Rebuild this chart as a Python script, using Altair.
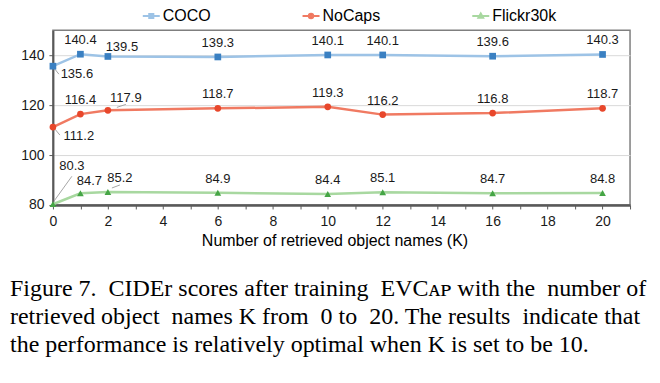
import altair as alt
import pandas as pd

# ---------------- data ----------------
K_VALUES = [0, 1, 2, 6, 10, 12, 16, 20]
SERIES = ["COCO", "NoCaps", "Flickr30k"]
COCO = [135.6, 140.4, 139.5, 139.3, 140.1, 140.1, 139.6, 140.3]
NOCAPS = [111.2, 116.4, 117.9, 118.7, 119.3, 116.2, 116.8, 118.7]
FLICKR = [80.3, 84.7, 85.2, 84.9, 84.4, 85.1, 84.7, 84.8]
X_TICKS = list(range(0, 22))
Y_TICKS = [80, 100, 120, 140]
X_TITLE = "Number of retrieved object names (K)"
CAPTION = [
    "Figure 7. CIDEr scores after training EVC\u1d00\u1d18 with the number of",
    "retrieved object names K from 0 to 20.  The results indicate that",
    "the performance is relatively optimal when K is set to be 10.",
]

# ---------------- styles ----------------
LINE_COLORS = ["#9DC3E6", "#F07A62", "#A8D8A0"]
MARKER_COLORS = ["#3A80C2", "#E8472B", "#45A545"]
MARKER_SHAPES = ["square", "circle", "triangle-up"]
LEGEND_PATHS = [
    "M-1,0H1M-0.24,-0.24H0.24V0.24H-0.24Z",
    "M-1,0H1M0.26,0A0.26,0.26,0,1,1,-0.26,0A0.26,0.26,0,1,1,0.26,0Z",
    "M-1,0H1M0,-0.3L0.28,0.2L-0.28,0.2Z",
]
FONT = "Liberation Sans"
# extra (non-breaking) spaces spread over the gaps of each caption line, to justify it
CAPTION_EXTRA_SPACES = [3, 4, 0]
# label offsets in pixels (dx, dy) for labels that are moved from the default spot
DEFAULT_OFFSET = (0, -14)
LABEL_OFFSETS = {
    ("COCO", 0): (24, 8),
    ("COCO", 2): (14, -9),
    ("NoCaps", 0): (26, 9),
    ("NoCaps", 2): (18, -12),
    ("Flickr30k", 0): (19, -38),
    ("Flickr30k", 1): (9, -12),
    ("Flickr30k", 2): (12, -14),
}
# leader lines: (x offset, y offset, x2 offset, y2 offset) in pixels
LEADERS = {
    ("COCO", 0): (2, 3, 6, 8),
    ("NoCaps", 0): (2, 2, 7, 8),
    ("NoCaps", 2): (9, -3, 18, -6),
    ("Flickr30k", 0): (1, -3, 19, -28),
    ("Flickr30k", 2): (4, -4, 12, -7),
}


def justify(line, extra):
    words = line.split()
    gaps = len(words) - 1
    if gaps <= 0 or extra <= 0:
        return line
    step = gaps / extra
    targets = {int(step * (j + 0.5)) for j in range(extra)}
    out = words[0]
    for i, w in enumerate(words[1:]):
        out += " " + ("\u00a0" if i in targets else "") + w
    return out


caption_text = [justify(l, e) for l, e in zip(CAPTION, CAPTION_EXTRA_SPACES)]

rows = []
for name, vals in zip(SERIES, [COCO, NOCAPS, FLICKR]):
    for k, v in zip(K_VALUES, vals):
        rows.append({"series": name, "K": k, "score": v, "key": f"{name}_{k}"})
df = pd.DataFrame(rows)

x_enc = alt.X(
    "K:Q",
    scale=alt.Scale(domain=[0, 21], nice=False, zero=False),
    axis=alt.Axis(
        values=X_TICKS,
        labelExpr="datum.value % 2 == 0 && datum.value <= 20 ? datum.label : ''",
        title=X_TITLE,
        grid=False,
        domainColor="#595959",
        domainWidth=2.5,
        tickColor="#595959",
        tickSize=4,
        tickWidth=1,
        labelFontSize=14,
        labelFont=FONT,
        labelColor="#1a1a1a",
        labelPadding=6,
        labelFlush=False,
        labelOverlap=False,
        titleFont=FONT,
        titleFontSize=16,
        titleFontWeight="normal",
        titleColor="#000000",
        titlePadding=4,
        titleX=282,
    ),
)
y_enc = alt.Y(
    "score:Q",
    scale=alt.Scale(domain=[80, 150], nice=False, zero=False),
    axis=alt.Axis(
        values=Y_TICKS,
        title=None,
        grid=True,
        gridColor="#D9D9D9",
        gridWidth=1,
        domainColor="#595959",
        domainWidth=2,
        tickColor="#595959",
        tickSize=4,
        labelFontSize=14,
        labelFont=FONT,
        labelColor="#1a1a1a",
        labelPadding=5,
    ),
)

base = alt.Chart(df)

lines = base.mark_line(strokeWidth=2.5).encode(
    x=x_enc,
    y=y_enc,
    stroke=alt.Stroke("series:N", scale=alt.Scale(domain=SERIES, range=LINE_COLORS), legend=None),
)

points = base.mark_point(filled=True, opacity=1, size=45).encode(
    x=x_enc,
    y=y_enc,
    fill=alt.Fill("series:N", scale=alt.Scale(domain=SERIES, range=MARKER_COLORS), legend=None),
    shape=alt.Shape("series:N", scale=alt.Scale(domain=SERIES, range=MARKER_SHAPES), legend=None),
)

layers = [lines]

# leader lines
for (s, k), (a, b, c, d) in LEADERS.items():
    layers.append(
        base.transform_filter(alt.datum.key == f"{s}_{k}")
        .mark_rule(color="#A6A6A6", strokeWidth=1, xOffset=a, yOffset=b, x2Offset=c, y2Offset=d)
        .encode(x=x_enc, y=y_enc, x2="K:Q", y2="score:Q")
    )

layers.append(points)

text_kw = dict(font=FONT, fontSize=13, color="#1a1a1a", baseline="middle", align="center")
special_keys = [f"{s}_{k}" for (s, k) in LABEL_OFFSETS]
layers.append(
    base.transform_filter(~alt.FieldOneOfPredicate(field="key", oneOf=special_keys))
    .mark_text(dx=DEFAULT_OFFSET[0], dy=DEFAULT_OFFSET[1], **text_kw)
    .encode(x=x_enc, y=y_enc, text=alt.Text("score:Q", format=".1f"))
)
for (s, k), (dx, dy) in LABEL_OFFSETS.items():
    layers.append(
        base.transform_filter(alt.datum.key == f"{s}_{k}")
        .mark_text(dx=dx, dy=dy, **text_kw)
        .encode(x=x_enc, y=y_enc, text=alt.Text("score:Q", format=".1f"))
    )

legend = alt.Legend(
    title=None,
    orient="none",
    legendX=89,
    legendY=-24,
    direction="horizontal",
    columnPadding=88,
    labelFont=FONT,
    labelFontSize=16,
    labelColor="#000000",
    labelOffset=2,
    symbolSize=289,
    symbolStrokeWidth=2,
    symbolOpacity=1,
    padding=0,
)
legend_layer = base.transform_filter("false").mark_point(filled=True, opacity=1).encode(
    x=x_enc,
    y=y_enc,
    fill=alt.Fill("series:N", scale=alt.Scale(domain=SERIES, range=MARKER_COLORS), legend=legend),
    stroke=alt.Stroke("series:N", scale=alt.Scale(domain=SERIES, range=LINE_COLORS), legend=legend),
    shape=alt.Shape("series:N", scale=alt.Scale(domain=SERIES, range=LEGEND_PATHS), legend=legend),
)
layers.append(legend_layer)

chart = (
    alt.layer(*layers)
    .resolve_scale(fill="independent", stroke="independent", shape="independent")
    .properties(
        width=578,
        height=175,
        autosize=alt.AutoSizeParams(type="none"),
        padding={"left": 45, "top": 22, "right": 22, "bottom": 160},
        title=alt.TitleParams(
            text=caption_text,
            orient="bottom",
            anchor="start",
            frame="group",
            font="Liberation Serif",
            fontSize=24,
            fontWeight="normal",
            color="#000000",
            lineHeight=28,
            offset=28,
            dx=-43,
        ),
    )
    .configure_view(stroke="#7F7F7F", strokeWidth=1.5)
)

chart.save("out.html", embed_options={"renderer": "svg", "actions": False})
